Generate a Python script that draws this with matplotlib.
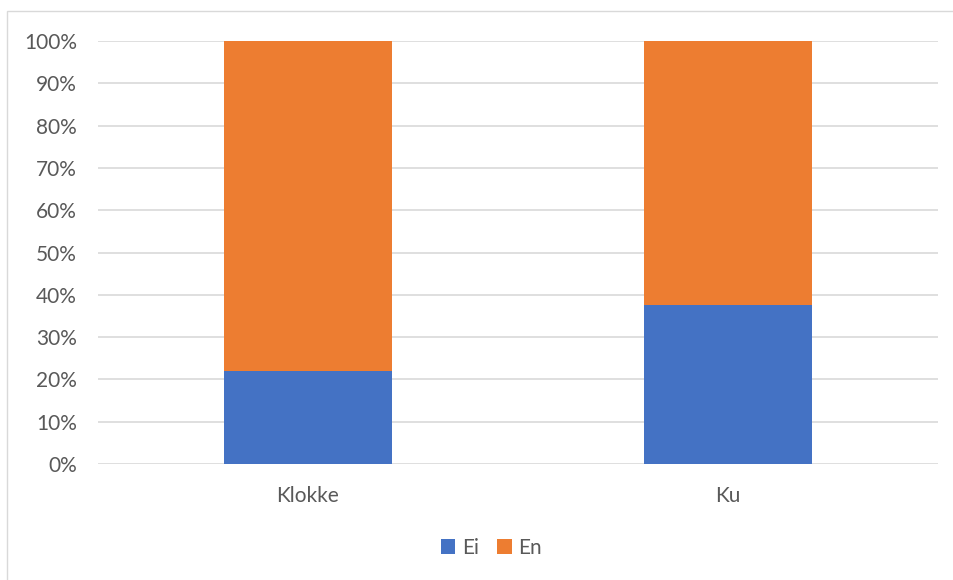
import matplotlib
matplotlib.use('Agg')
import matplotlib.pyplot as plt
from matplotlib.patches import Rectangle
from matplotlib.ticker import PercentFormatter

categories = ['Klokke', 'Ku']
ei = [21.9, 37.5]
en = [78.1, 62.5]

plt.rcParams['font.family'] = ['Lato', 'DejaVu Sans']

fig = plt.figure(figsize=(9.54, 5.8), dpi=100)
ax = fig.add_axes([0.1027, 0.2, 0.8805, 0.7293])

# chart frame
fig.patches.append(Rectangle((7 / 954, -0.1), 1.2, 1 - 11 / 580 + 0.1,
                             transform=fig.transFigure, fill=False,
                             edgecolor='#D9D9D9', linewidth=1))

x = range(len(categories))
ax.bar(x, ei, width=0.4, color='#4472C4', label='Ei', zorder=3)
ax.bar(x, en, width=0.4, bottom=ei, color='#ED7D31', label='En', zorder=3)

ax.set_xlim(-0.5, 1.5)
ax.set_ylim(0, 100)
ax.set_yticks(range(0, 101, 10))
ax.yaxis.set_major_formatter(PercentFormatter(decimals=0))
ax.set_xticks(list(x))
ax.set_xticklabels(categories)
ax.grid(axis='y', color='#D9D9D9', linewidth=1.2, zorder=0)
for s in ax.spines.values():
    s.set_visible(False)
ax.tick_params(length=0, labelsize=15, colors='#595959')
ax.tick_params(axis='y', pad=15)
ax.tick_params(axis='x', pad=16)

fig.legend(loc='center', bbox_to_anchor=(0.515, 1 - 548 / 580), ncol=2,
           frameon=False, fontsize=15, handlelength=0.7, handleheight=0.7,
           handletextpad=0.3, columnspacing=0.9, labelcolor='#595959')

fig.savefig('out.png', dpi=100)
